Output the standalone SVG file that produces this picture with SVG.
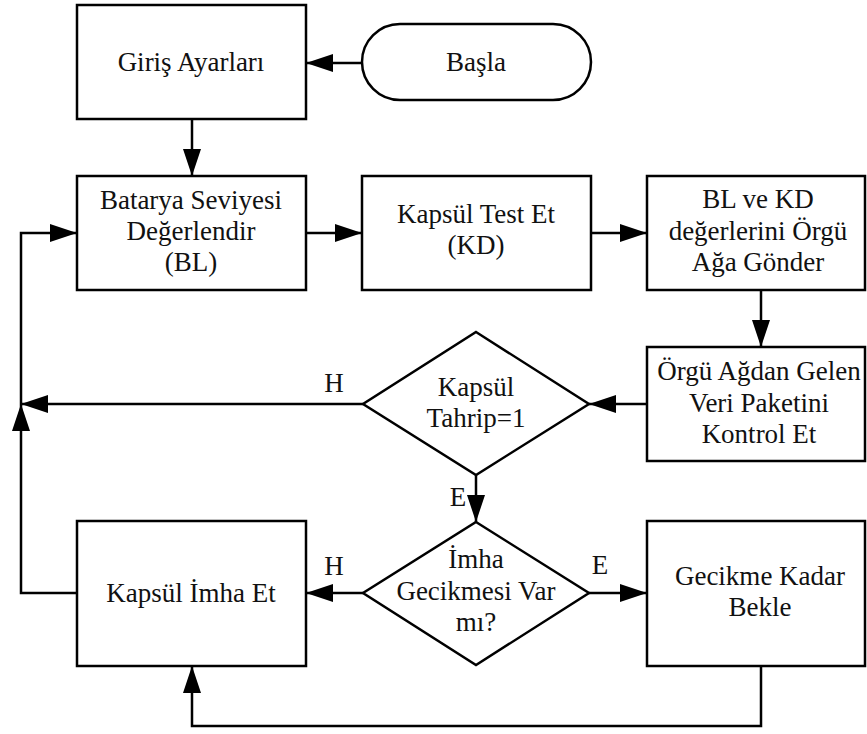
<svg xmlns="http://www.w3.org/2000/svg" width="867" height="734" viewBox="0 0 867 734">
<style>
.box{fill:#fff;stroke:#000;stroke-width:2.5}
.ln{fill:none;stroke:#000;stroke-width:2.5}
.t{font-family:'Liberation Serif','Times New Roman','DejaVu Serif',serif;font-size:27px;fill:#111;text-anchor:middle}
</style>
<defs>
<marker id="ah" markerUnits="userSpaceOnUse" markerWidth="28" markerHeight="20" refX="27" refY="9" orient="auto">
<path d="M0,0 L27,9 L0,18 z" fill="#000"/>
</marker>
</defs>
<rect width="867" height="734" fill="#fff"/>
<g id="connectors">
<line class="ln" x1="362" y1="63" x2="306" y2="63" marker-end="url(#ah)"/>
<line class="ln" x1="192" y1="119" x2="192" y2="176" marker-end="url(#ah)"/>
<line class="ln" x1="306" y1="233" x2="362" y2="233" marker-end="url(#ah)"/>
<line class="ln" x1="591" y1="233" x2="647" y2="233" marker-end="url(#ah)"/>
<line class="ln" x1="761" y1="290" x2="761" y2="347" marker-end="url(#ah)"/>
<line class="ln" x1="647" y1="404" x2="589" y2="404" marker-end="url(#ah)"/>
<line class="ln" x1="363" y1="404" x2="21" y2="404" marker-end="url(#ah)"/>
<line class="ln" x1="476" y1="475" x2="476" y2="522" marker-end="url(#ah)"/>
<line class="ln" x1="363" y1="593" x2="306" y2="593" marker-end="url(#ah)"/>
<line class="ln" x1="589" y1="593" x2="647" y2="593" marker-end="url(#ah)"/>
<polyline class="ln" points="77,593 21,593 21,404" marker-end="url(#ah)"/>
<polyline class="ln" points="21,404 21,233 77,233" marker-end="url(#ah)"/>
<polyline class="ln" points="761,666 761,726 192,726 192,666" marker-end="url(#ah)"/>
<text class="t" x="334" y="392">H</text>
<text class="t" x="334" y="575">H</text>
<text class="t" x="458" y="506">E</text>
<text class="t" x="600" y="574">E</text>
</g>
<g id="basla">
<rect class="box" x="362" y="24" width="229" height="76" rx="38" ry="38"/>
<text class="t" x="476" y="71">Başla</text>
</g>
<g id="giris">
<rect class="box" x="77" y="5" width="229" height="114"/>
<text class="t" x="191" y="71">Giriş Ayarları</text>
</g>
<g id="batarya">
<rect class="box" x="77" y="176" width="229" height="114"/>
<text class="t" x="191" y="209">Batarya Seviyesi</text>
<text class="t" x="191" y="240">Değerlendir</text>
<text class="t" x="191" y="271">(BL)</text>
</g>
<g id="kapsultest">
<rect class="box" x="362" y="176" width="229" height="114"/>
<text class="t" x="476" y="223">Kapsül Test Et</text>
<text class="t" x="476" y="254">(KD)</text>
</g>
<g id="gonder">
<rect class="box" x="647" y="176" width="218" height="114"/>
<text class="t" x="758" y="208">BL ve KD</text>
<text class="t" x="758" y="240">değerlerini Örgü</text>
<text class="t" x="758" y="271">Ağa Gönder</text>
</g>
<g id="kontrol">
<rect class="box" x="647" y="347" width="218" height="114"/>
<text class="t" x="759" y="380">Örgü Ağdan Gelen</text>
<text class="t" x="759" y="412">Veri Paketini</text>
<text class="t" x="759" y="443">Kontrol Et</text>
</g>
<g id="tahrip">
<polygon class="box" points="476,332 589,404 476,475 363,404"/>
<text class="t" x="476" y="396">Kapsül</text>
<text class="t" x="476" y="427">Tahrip=1</text>
</g>
<g id="gecikmevar">
<polygon class="box" points="476,522 589,593 476,665 363,593"/>
<text class="t" x="476" y="568">İmha</text>
<text class="t" x="476" y="600">Gecikmesi Var</text>
<text class="t" x="476" y="631">mı?</text>
</g>
<g id="imha">
<rect class="box" x="77" y="521" width="229" height="145"/>
<text class="t" x="191" y="602">Kapsül İmha Et</text>
</g>
<g id="bekle">
<rect class="box" x="647" y="521" width="218" height="145"/>
<text class="t" x="760" y="585">Gecikme Kadar</text>
<text class="t" x="760" y="616">Bekle</text>
</g>
</svg>
